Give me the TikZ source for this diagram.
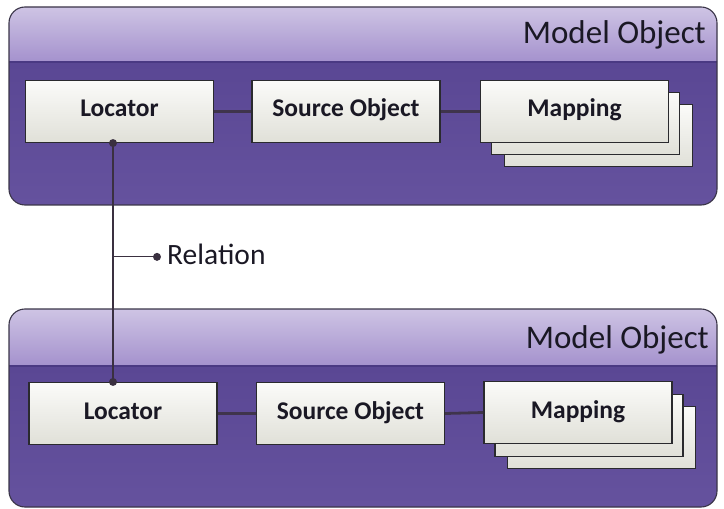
\documentclass[tikz,border=0pt]{standalone}
\usepackage{fontspec}
\setmainfont{Carlito}
\usetikzlibrary{calc}

\definecolor{hdtop}{HTML}{CEC4E4}
\definecolor{hdbot}{HTML}{A491CD}
\definecolor{bdtop}{HTML}{5A4794}
\definecolor{bdbot}{HTML}{65529E}
\definecolor{seam}{HTML}{4A3983}
\definecolor{frame}{HTML}{3A3548}
\definecolor{ink}{HTML}{1A1824}
\definecolor{boxtop}{HTML}{FBFBF9}
\definecolor{boxbot}{HTML}{E0E0D8}
\definecolor{boxline}{HTML}{2A2A2E}
\definecolor{wire}{HTML}{3A3040}

\tikzset{
  panelframe/.style={draw=frame, line width=1.1bp, rounded corners=16bp},
  part/.style={rectangle, draw=boxline, line width=1.1bp,
    top color=boxtop, bottom color=boxbot,
    minimum width=188bp, minimum height=62bp, inner sep=0pt,
    font=\bfseries\fontsize{25.5bp}{30bp}\selectfont, text=ink,
    text height=16bp, text depth=5bp},
  title/.style={anchor=base east, inner sep=0pt, text=ink,
    font=\fontsize{33bp}{39bp}\selectfont},
  link/.style={draw=wire, line width=2.8bp, opacity=0.85},
  relwire/.style={draw=wire, line width=1.1bp},
  pin/.style={fill=wire},
}

\begin{document}
\begin{tikzpicture}[x=1bp, y=-1bp]
\useasboundingbox (0,0) rectangle (724,509);

% upper panel: light header band over the dark body
\begin{scope}
  \clip[rounded corners=16bp] (9,7) rectangle (717,205);
  \shade[top color=hdtop, bottom color=hdbot] (9,7) rectangle (717,62);
  \shade[top color=bdtop, bottom color=bdbot] (9,62) rectangle (717,205);
  \draw[seam, line width=1.5bp] (9,62) -- (717,62);
\end{scope}
\draw[panelframe] (9,7) rectangle (717,205);
\node[title] (title1) at (706,44) {Model Object};

% lower panel
\begin{scope}
  \clip[rounded corners=16bp] (9,309) rectangle (717,507);
  \shade[top color=hdtop, bottom color=hdbot] (9,309) rectangle (717,366);
  \shade[top color=bdtop, bottom color=bdbot] (9,366) rectangle (717,507);
  \draw[seam, line width=1.5bp] (9,366) -- (717,366);
\end{scope}
\draw[panelframe] (9,309) rectangle (717,507);
\node[title] (title2) at (709,348) {Model Object};

% upper row of parts
\node[part] (map1c) at (598.5,135.5) {};
\node[part] (map1b) at (585.5,123.5) {};
\node[part] (loc1) at (119.5,111.5) {Locator};
\node[part] (src1) at (346,111.5) {Source Object};
\node[part] (map1) at (574.5,111.5) {Mapping};
\draw[link] (loc1.east) -- (src1.west);
\draw[link] (src1.east) -- (map1.west);

% lower row of parts
\node[part] (map2c) at (601.5,437.5) {};
\node[part] (map2b) at (589,425.5) {};
\node[part] (loc2) at (123,413.5) {Locator};
\node[part] (src2) at (350.5,413.5) {Source Object};
\node[part] (map2) at (578,412.5) {Mapping};
\draw[link] (loc2.east) -- (src2.west);
\draw[link] (src2.east) -- (map2.west);

% relation between the two locators
\coordinate (rx) at (113,0);
\coordinate (ra) at (loc1.south -| rx);
\coordinate (rb) at (loc2.north -| rx);
\node[anchor=base west, inner sep=0pt, text=ink,
      font=\fontsize{29.5bp}{35bp}\selectfont] (rel) at (167,265) {Relation};
\coordinate (rdot) at ([xshift=-10bp, yshift=-2bp]rel.west);
\draw[relwire] (ra) -- (rb);
\draw[relwire] (ra |- rdot) -- (rdot);
\fill[pin] (ra) circle (4bp);
\fill[pin] (rb) circle (4bp);
\fill[pin] (rdot) circle (4bp);
\end{tikzpicture}
\end{document}
